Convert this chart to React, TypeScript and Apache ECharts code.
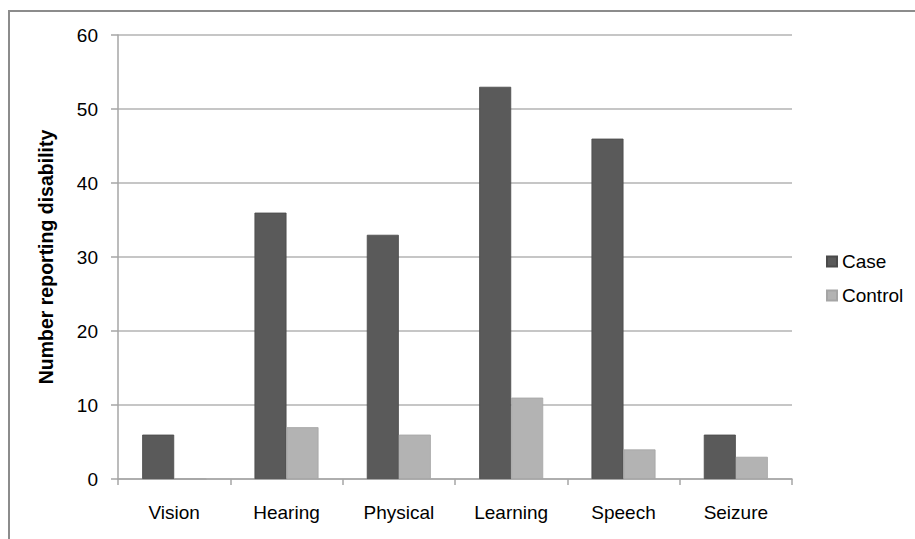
import React, { useEffect, useRef } from "react";
import * as echarts from "echarts";

const categories = ["Vision", "Hearing", "Physical", "Learning", "Speech", "Seizure"];
const caseValues = [6, 36, 33, 53, 46, 6];
const controlValues = [0, 7, 6, 11, 4, 3];
const seriesNames = ["Case", "Control"];
const yTitle = "Number reporting disability";

export default function App() {
  const ref = useRef<HTMLDivElement>(null);
  useEffect(() => {
    if (!ref.current) return;
    const chart = echarts.init(ref.current, null, { renderer: "svg" });
    const font = "'Liberation Sans', Arial, sans-serif";
    chart.setOption({
      animation: false,
      backgroundColor: "#ffffff",
      textStyle: { fontFamily: font },
      graphic: [
        {
          type: "rect",
          shape: { x: 9, y: 11, width: 930, height: 560 },
          style: { fill: "none", stroke: "#8c8c8c", lineWidth: 2 },
          silent: true,
        },
      ],
      grid: { left: 118, right: 123, top: 35, bottom: 60, containLabel: false },
      legend: {
        orient: "vertical",
        left: 826,
        top: 252,
        padding: 0,
        itemWidth: 10,
        itemHeight: 10,
        itemGap: 15,
        icon: "rect",
        textStyle: { fontFamily: font, fontSize: 19, color: "#000" },
        data: seriesNames,
      },
      xAxis: {
        type: "category",
        data: categories,
        axisLine: { show: true, lineStyle: { color: "#a6a6a6", width: 1.5 } },
        axisTick: { show: true, interval: 0, length: 6, lineStyle: { color: "#a6a6a6", width: 1.5 } },
        axisLabel: { interval: 0, margin: 24, fontSize: 19, color: "#000", fontFamily: font },
      },
      yAxis: {
        type: "value",
        min: 0,
        max: 60,
        interval: 10,
        name: yTitle,
        nameLocation: "middle",
        nameGap: 62,
        nameTextStyle: { fontSize: 19.5, fontWeight: "bold", color: "#000", fontFamily: font },
        axisLine: { show: true, lineStyle: { color: "#a6a6a6", width: 1.5 } },
        axisTick: { show: true, length: 7, lineStyle: { color: "#a6a6a6", width: 1.5 } },
        axisLabel: { margin: 20, fontSize: 19, color: "#000", fontFamily: font },
        splitLine: { show: true, lineStyle: { color: "#b3b3b3", width: 1.5 } },
      },
      series: [
        {
          name: seriesNames[0],
          type: "bar",
          data: caseValues,
          barGap: "0%",
          barCategoryGap: "43%",
          itemStyle: { color: "#5a5a5a", borderColor: "#4a4a4a", borderWidth: 0.8 },
        },
        {
          name: seriesNames[1],
          type: "bar",
          data: controlValues,
          barGap: "0%",
          barCategoryGap: "43%",
          itemStyle: { color: "#b3b3b3", borderColor: "#a5a5a5", borderWidth: 0.8 },
        },
      ],
    });
    return () => chart.dispose();
  }, []);
  return (
    <div
      ref={ref}
      style={{ position: "fixed", left: 0, top: 0, width: 915, height: 539 }}
    />
  );
}
